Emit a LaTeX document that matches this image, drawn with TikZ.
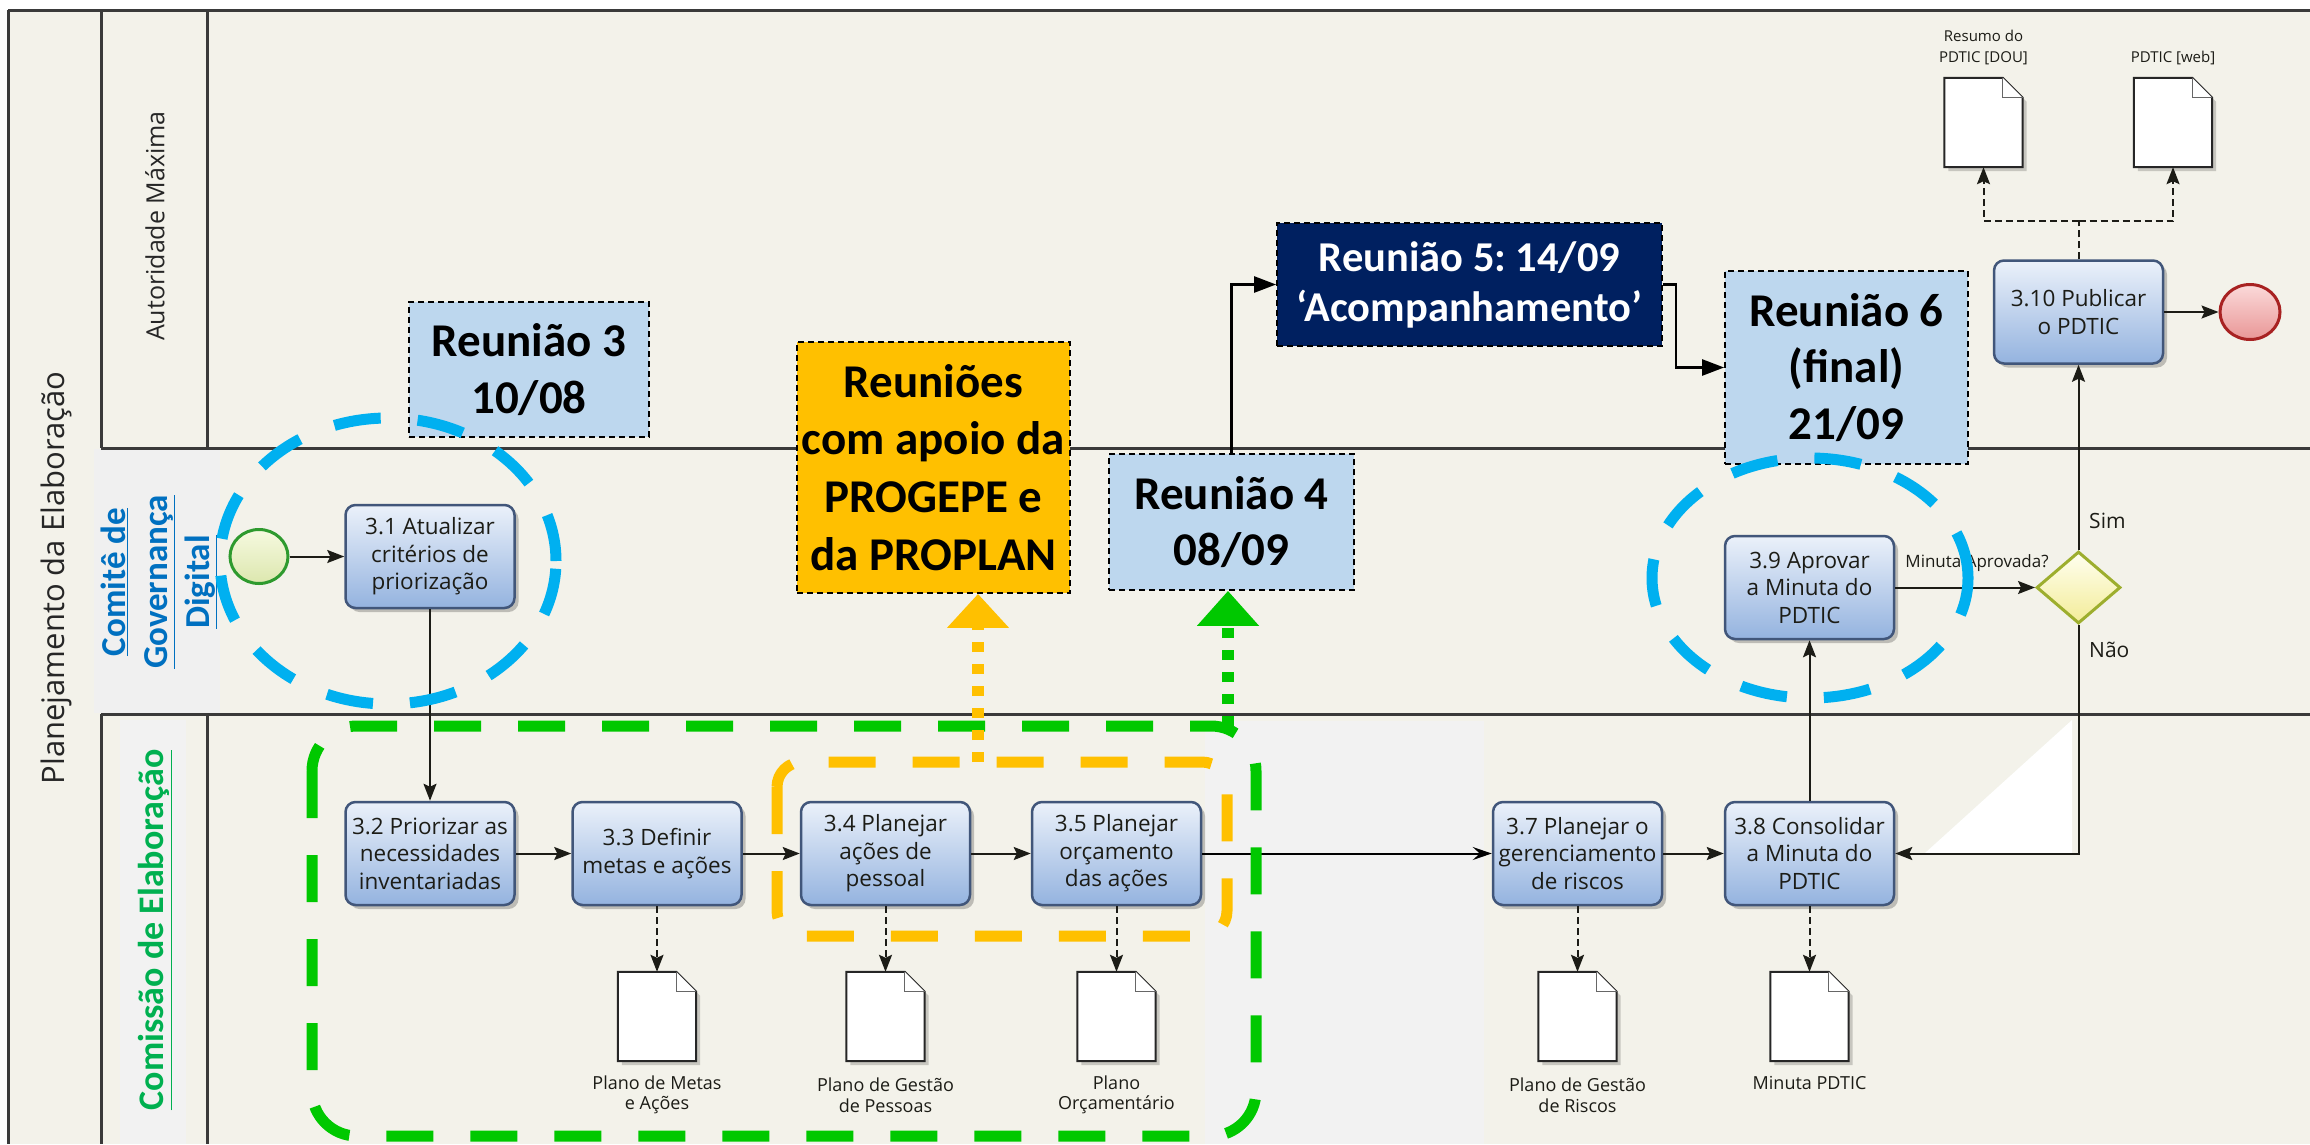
\documentclass[tikz,border=0pt]{standalone}
\usepackage{fontspec}
\setmainfont{Open Sans}
\newfontfamily\calfont{Carlito}
\usetikzlibrary{arrows.meta,shapes.geometric,shadows}
\frenchspacing
\definecolor{lanebg}{HTML}{F3F2EA}
\definecolor{hdrgray}{HTML}{F0F0F0}
\definecolor{patchgray}{HTML}{F2F2F2}
\definecolor{frameline}{HTML}{3A3A3A}
\definecolor{boxtop}{HTML}{EBF1FA}
\definecolor{boxbot}{HTML}{94B3DF}
\definecolor{boxline}{HTML}{41567A}
\definecolor{reuniblue}{HTML}{BDD7EE}
\definecolor{reuniorange}{HTML}{FFC000}
\definecolor{reuninavy}{HTML}{002060}
\definecolor{ovblue}{HTML}{00B0F0}
\definecolor{ovgreen}{HTML}{00C800}
\definecolor{ovorange}{HTML}{FFC000}
\definecolor{comiteblue}{HTML}{0070C0}
\definecolor{comissaogreen}{HTML}{00B050}
\definecolor{startfillA}{HTML}{F6F9E0}
\definecolor{startfillB}{HTML}{DCE7AE}
\definecolor{startline}{HTML}{2E9A2E}
\definecolor{endfillA}{HTML}{FBDADA}
\definecolor{endfillB}{HTML}{E99696}
\definecolor{endline}{HTML}{A82222}
\definecolor{gwfillA}{HTML}{FFFFF0}
\definecolor{gwfillB}{HTML}{F3EC98}
\definecolor{gwline}{HTML}{9DAE2E}
\definecolor{inkcol}{HTML}{1C1C16}
\newcommand{\fsz}[2]{\fontsize{#1}{#2}\selectfont\frenchspacing}
\newcommand{\meetfont}{\calfont\bfseries\fsz{47}{56.5}}
\tikzset{
  task/.style={rectangle, rounded corners=10pt, draw=boxline, line width=2.5pt,
     top color=boxtop, bottom color=boxbot, minimum width=169pt, minimum height=103pt,
     inner sep=0pt, align=center, text=inkcol, font=\fsz{22.5}{27.5},
     drop shadow={shadow xshift=4pt, shadow yshift=-4pt, opacity=0.22, fill=black}},
  docbox/.style={rectangle, minimum width=78pt, minimum height=89pt, inner sep=0pt},
  doclabel/.style={align=center, font=\fsz{18}{20.5}, inner sep=0pt, text=inkcol},
  flow/.style={draw=inkcol, line width=2pt, -{Stealth[length=17pt,width=13pt,inset=3pt]}},
  dataflow/.style={flow, dash pattern=on 7pt off 4pt},
  meetbox/.style={rectangle, draw=black, line width=1.8pt, dash pattern=on 6pt off 4pt,
     inner sep=0pt, align=center, font=\meetfont},
  meetarrow/.style={draw=black, line width=2.5pt, -{Triangle[length=22pt,width=16pt]}},
  ovl/.style={line width=11pt, dash pattern=on 47pt off 37pt},
  dotline/.style={line width=12pt, dash pattern=on 10pt off 12pt},
  laneline/.style={draw=frameline, line width=3pt},
}
\newcommand{\docicon}[3]{%
  \node[docbox] (#1) at (#2,#3) {};
  \fill[black,opacity=0.18] ([shift={(4pt,-4pt)}]#1.north west) -- ([shift={(-16pt,-4pt)}]#1.north east)
     -- ([shift={(4pt,-24pt)}]#1.north east) -- ([shift={(4pt,-4pt)}]#1.south east)
     -- ([shift={(4pt,-4pt)}]#1.south west) -- cycle;
  \draw[line width=2pt, fill=white, draw=black!85] (#1.north west) -- ([xshift=-20pt]#1.north east)
     -- ([yshift=-20pt]#1.north east) -- (#1.south east) -- (#1.south west) -- cycle;
  \draw[line width=1.2pt, draw=black!60, fill=white] ([xshift=-20pt]#1.north east)
     -- ([shift={(-20pt,-20pt)}]#1.north east) -- ([yshift=-20pt]#1.north east);
}
\begin{document}
\begin{tikzpicture}[x=1pt,y=1pt]
\useasboundingbox (0,0) rectangle (2310,-1144);
\fill[white] (0,0) rectangle (2310,-1144);
\fill[lanebg] (8,-10) rectangle (2310,-1144);
\fill[patchgray] (1205,-721) rectangle (1484,-1144);
\fill[patchgray] (120,-720) rectangle (186,-1144);
\fill[hdrgray] (94,-449) rectangle (220,-713);
% frame and lanes
\draw[laneline] (8,-10) -- (2310,-10);
\draw[laneline] (8,-10) -- (8,-1144);
\draw[laneline] (101,-10) -- (101,-448);
\draw[laneline] (101,-714) -- (101,-1144);
\draw[laneline] (207,-10) -- (207,-448);
\draw[laneline] (207,-714) -- (207,-1144);
\draw[laneline] (101,-448) -- (2310,-448);
\draw[laneline] (101,-714) -- (2310,-714);
% lane labels
\node[rotate=90, font=\fsz{31}{36}, text=black!85] (pool) at (56,-578) {Planejamento da Elaboração};
\node[rotate=90, font=\fsz{25}{30}, text=black!85] (lane1) at (155,-226) {Autoridade Máxima};
\node[rotate=90, align=center, font=\calfont\bfseries\fsz{35}{42}, text=comiteblue] (lane2) at (159,-582)
  {\underline{Comitê de}\\\underline{Governança}\\\underline{Digital}};
\node[rotate=90, font=\calfont\bfseries\fsz{36}{42}, text=comissaogreen] (lane3) at (155,-930)
  {\underline{Comissão de Elaboração}};
% white artefact
\fill[white] (2072,-720) -- (2072,-853) -- (1925,-853) -- cycle;
% tasks
\node[task] (b31) at (430,-556.5) {3.1 Atualizar\\critérios de\\priorização};
\node[task] (b32) at (430,-853.5) {3.2 Priorizar as\\necessidades\\inventariadas};
\node[task] (b33) at (657,-853.5) {3.3 Definir\\metas e ações};
\node[task] (b34) at (885.5,-853.5) {3.4 Planejar\\ações de\\pessoal};
\node[task] (b35) at (1116.5,-853.5) {3.5 Planejar\\orçamento\\das ações};
\node[task] (b37) at (1577.5,-853.5) {3.7 Planejar o\\gerenciamento\\de riscos};
\node[task] (b38) at (1809.5,-853.5) {3.8 Consolidar\\a Minuta do\\PDTIC};
\node[task] (b39) at (1809.5,-587.5) {3.9 Aprovar\\a Minuta do\\PDTIC};
\node[task] (b310) at (2078.5,-312) {3.10 Publicar\\o PDTIC};
% events
\node[ellipse, minimum width=58pt, minimum height=54pt, inner sep=0pt, draw=startline, line width=3pt,
  top color=startfillA, bottom color=startfillB] (start) at (259,-556.5) {};
\node[ellipse, minimum width=60pt, minimum height=55pt, inner sep=0pt, draw=endline, line width=3pt,
  top color=endfillA, bottom color=endfillB] (end) at (2250,-312) {};
\node[diamond, minimum width=84pt, minimum height=72pt, inner sep=0pt, draw=gwline, line width=3pt,
  top color=gwfillA, bottom color=gwfillB] (gw) at (2078.5,-587.5) {};
% documents
\docicon{d1}{657}{-1016.5}
\docicon{d2}{885.5}{-1016.5}
\docicon{d3}{1116.5}{-1016.5}
\docicon{d4}{1577.5}{-1016.5}
\docicon{d5}{1809.5}{-1016.5}
\docicon{d6}{1983.5}{-122.5}
\docicon{d7}{2173}{-122.5}
\node[doclabel] (l1) at (657,-1095) {Plano de Metas\\e Ações};
\node[doclabel] (l2) at (885.5,-1095) {Plano de Gestão\\de Pessoas};
\node[doclabel] (l3) at (1116.5,-1095) {Plano\\Orçamentário};
\node[doclabel] (l4) at (1577.5,-1095) {Plano de Gestão\\de Riscos};
\node[doclabel] (l5) at (1809.5,-1083) {Minuta PDTIC};
\node[doclabel, font=\fsz{15}{21}] (l6) at (1983.5,-47.5) {Resumo do\\PDTIC [DOU]};
\node[doclabel, font=\fsz{15}{21}] (l7) at (2173,-58) {PDTIC [web]};
% flows
\draw[flow] (start) -- (b31);
\draw[flow] (b31) -- (b32);
\draw[flow] (b32) -- (b33);
\draw[flow] (b33) -- (b34);
\draw[flow] (b34) -- (b35);
\draw[flow, draw=black, -{Stealth[length=19pt,width=13pt,inset=7pt]}] (b35) -- (b37);
\draw[flow] (b37) -- (b38);
\draw[flow] (b38) -- (b39);
\draw[flow] (b39) -- (gw);
\node[font=\fsz{17}{20}, text=inkcol, inner sep=0pt] (qlbl) at (1977,-563) {Minuta Aprovada?};
\draw[flow] (gw) -- (b310);
\draw[flow] (gw.south) |- (b38.east);
\node[anchor=west, font=\fsz{21}{24}, text=inkcol, inner sep=0pt] (sim) at (2089,-521) {Sim};
\node[anchor=west, font=\fsz{21}{24}, text=inkcol, inner sep=0pt] (nao) at (2089,-650) {Não};
\draw[flow] (b310) -- (end);
\coordinate (fork) at (2078.5,-221);
\draw[dataflow, -] (b310.north) -- (fork);
\draw[dataflow] (fork) -| (d6.south);
\draw[dataflow] (fork) -| (d7.south);
\draw[dataflow] (b33) -- (d1);
\draw[dataflow] (b34) -- (d2);
\draw[dataflow] (b35) -- (d3);
\draw[dataflow] (b37) -- (d4);
\draw[dataflow] (b38) -- (d5);
% meeting boxes
\node[meetbox, fill=reuniblue, minimum width=240pt, minimum height=135pt] (r3) at (529,-369.5) {Reunião 3\\10/08};
\node[meetbox, fill=reuniorange, minimum width=273pt, minimum height=251pt, font=\calfont\bfseries\fsz{47}{57.7}] (r0) at (933.5,-467.5)
  {Reuniões\\com apoio da\\PROGEPE e\\da PROPLAN};
\node[meetbox, fill=reuniblue, minimum width=245pt, minimum height=136pt] (r4) at (1231.5,-522) {Reunião 4\\08/09};
\node[meetbox, fill=reuninavy, text=white, minimum width=385pt, minimum height=123pt, font=\calfont\bfseries\fsz{42.5}{50}] (r5) at (1469.5,-284.5)
  {Reunião 5: 14/09\\‘Acompanhamento’};
\node[meetbox, fill=reuniblue, minimum width=243pt, minimum height=193pt] (r6) at (1846.5,-367.5) {Reunião 6\\(final)\\21/09};
\draw[meetarrow] (r4.north) |- (r5.west);
\draw[meetarrow] (r5.east) -- ++(13,0) |- (r6.west);
% overlays
\draw[ovl, ovgreen, rounded corners=45pt] (312,-726) rectangle (1256,-1136);
\draw[ovl, ovorange, rounded corners=25pt] (777,-762) rectangle (1227,-936);
\draw[ovl, ovblue] (388,-561) ellipse [x radius=168pt, y radius=143pt];
\draw[ovl, ovblue] (1810,-578) ellipse [x radius=158pt, y radius=120pt];
\coordinate (otop) at (978,-762);
\coordinate (gtop) at (1228,-726);
\draw[dotline, ovorange, -{Triangle[length=34pt,width=60pt]}] (otop) -- (otop |- r0.south);
\draw[dotline, ovgreen, -{Triangle[length=35pt,width=60pt]}] (gtop) -- (gtop |- r4.south);
\end{tikzpicture}
\end{document}
